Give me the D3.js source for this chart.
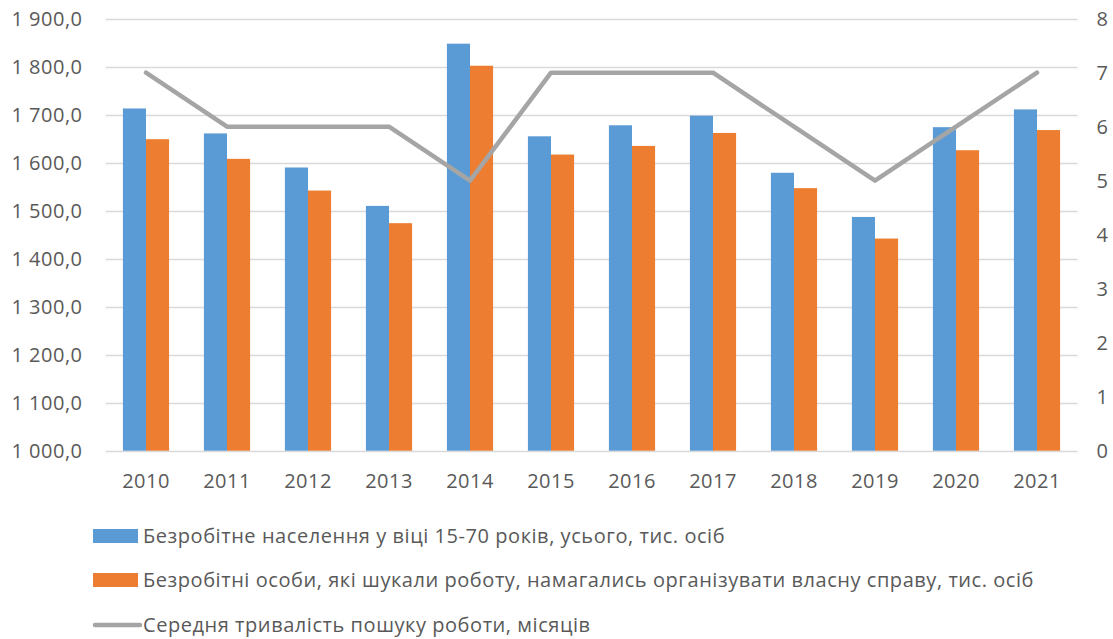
<!DOCTYPE html>
<html><head><meta charset="utf-8">
<script src="https://cdn.jsdelivr.net/npm/d3@7"></script>
<style>body{margin:0;background:#fff}svg{display:block;font-family:"Open Sans",sans-serif}</style>
</head><body><svg id="c" width="1113" height="639"></svg>
<script>
const years = ["2010","2011","2012","2013","2014","2015","2016","2017","2018","2019","2020","2021"];
const unemployed = [1713,1661,1590,1510,1848,1655,1678,1698,1579,1487,1674,1711];
const jobSeekers = [1649,1608,1542,1474,1802,1617,1635,1662,1547,1442,1626,1668];
const duration = [7,6,6,6,5,7,7,7,6,5,6,7];
const leftTicks = [1000,1100,1200,1300,1400,1500,1600,1700,1800,1900];
const rightTicks = [0,1,2,3,4,5,6,7,8];
const seriesNames = [
 "Безробітне населення у віці 15-70 років, усього, тис. осіб",
 "Безробітні особи, які шукали роботу, намагались організувати власну справу, тис. осіб",
 "Середня тривалість пошуку роботи, місяців"];

const blue="#5b9bd5", orange="#ed7d31", grey="#a5a5a5", txt="#595959";
const svg=d3.select("#c");
const L=105.5, R=1077.5, T=18.7, B=450.7;
const x=d3.scaleBand().domain(years).range([L,R]).paddingInner(0.43).paddingOuter(0.215);
const xc=d3.scaleBand().domain(years).range([L,R]);
const yL=d3.scaleLinear().domain([1000,1900]).range([B,T]);
const yR=d3.scaleLinear().domain([0,8]).range([B,T]);
const loc=d3.formatLocale({decimal:",",thousands:" ",grouping:[3],currency:["",""]});
const fmt=loc.format(",.1f");
const fs="20px", ls="0.5px";

svg.append("g").selectAll("line").data(leftTicks).join("line")
 .attr("x1",L).attr("x2",R).attr("y1",d=>Math.round(yL(d))+0.5).attr("y2",d=>Math.round(yL(d))+0.5)
 .attr("stroke","#d9d9d9").attr("stroke-width",1.3);

function styleAxis(g){
  g.select(".domain").remove();
  g.selectAll("text").attr("fill",txt).style("font-size",fs).style("letter-spacing",ls).style("font-family","'Open Sans',sans-serif");
}
styleAxis(svg.append("g").attr("transform",`translate(${L},0)`).call(d3.axisLeft(yL).tickValues(leftTicks).tickFormat(fmt).tickSize(0).tickPadding(23)));
styleAxis(svg.append("g").attr("transform",`translate(${R},0)`).call(d3.axisRight(yR).tickValues(rightTicks).tickFormat(d3.format("d")).tickSize(0).tickPadding(19)));
styleAxis(svg.append("g").attr("transform",`translate(0,${B})`).call(d3.axisBottom(xc).tickSize(0).tickPadding(23)));

const bw=x.bandwidth()/2;
svg.append("g").selectAll("rect").data(years).join("rect")
 .attr("x",d=>x(d)).attr("width",bw).attr("y",(d,i)=>yL(unemployed[i])).attr("height",(d,i)=>B-yL(unemployed[i])).attr("fill",blue);
svg.append("g").selectAll("rect").data(years).join("rect")
 .attr("x",d=>x(d)+bw).attr("width",bw).attr("y",(d,i)=>yL(jobSeekers[i])).attr("height",(d,i)=>B-yL(jobSeekers[i])).attr("fill",orange);

const line=d3.line().x((d,i)=>xc(years[i])+xc.bandwidth()/2).y(d=>yR(d));
svg.append("path").datum(duration).attr("d",line).attr("fill","none").attr("stroke",grey).attr("stroke-width",4.5).attr("stroke-linecap","round").attr("stroke-linejoin","round");

const lg=svg.append("g");
const ly=[536,580,625];
lg.append("rect").attr("x",93).attr("y",ly[0]-7).attr("width",45).attr("height",14).attr("fill",blue);
lg.append("rect").attr("x",93).attr("y",ly[1]-7).attr("width",45).attr("height",14).attr("fill",orange);
lg.append("line").attr("x1",95).attr("x2",140).attr("y1",ly[2]).attr("y2",ly[2]).attr("stroke",grey).attr("stroke-width",4.5).attr("stroke-linecap","round");
lg.selectAll("text").data(seriesNames).join("text").attr("x",143).attr("y",(d,i)=>ly[i]).attr("dy","0.35em")
 .attr("fill",txt).style("font-size",fs).style("letter-spacing","0.55px").text(d=>d);
</script></body></html>
